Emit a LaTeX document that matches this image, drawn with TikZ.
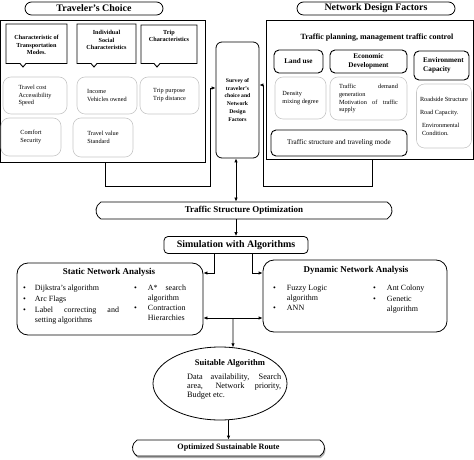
\documentclass[tikz,border=0pt]{standalone}
\usepackage{fontspec}
\usepackage{array}
\setmainfont{Liberation Serif}
\usetikzlibrary{shapes.misc,shapes.geometric,arrows.meta,shadows}
\hyphenpenalty=10000
\exhyphenpenalty=10000
\tikzset{
  titlepill/.style={draw, line width=0.8pt, rounded rectangle, font=\fontsize{10}{12}\selectfont\bfseries, inner sep=0pt},
  outerbox/.style={draw, line width=0.7pt, inner sep=0pt},
  hdrtext/.style={font=\fontsize{6.2}{7.8}\selectfont\bfseries, align=center, inner sep=0pt},
  hdrframe/.style={draw, line width=0.9pt},
  softbox/.style={draw=black!22, line width=0.6pt, rounded corners=8bp, font=\fontsize{6.3}{8}\selectfont, align=left, inner sep=0pt},
  darkbox/.style={draw, line width=0.9pt, rounded corners=5bp, font=\fontsize{7.2}{8.8}\selectfont\bfseries, align=center, inner sep=0pt},
  plaintext/.style={inner sep=0pt},
  bigbox/.style={draw, line width=0.8pt, rounded corners=11bp, inner sep=0pt},
  arr/.style={-{Latex[length=4bp,width=3.5bp]}, line width=0.8pt},
  darr/.style={{Latex[length=4bp,width=3.5bp]}-{Latex[length=4bp,width=3.5bp]}, line width=0.8pt},
  bodytxt/.style={font=\fontsize{8}{10}\selectfont, inner sep=0pt, align=left},
}
\begin{document}
\begin{tikzpicture}[x=1bp,y=-1bp]
\useasboundingbox (0,0) rectangle (474,460);

% ---------------- Traveler's choice ----------------
\node[titlepill, minimum width=138bp, minimum height=13bp] (tctitle) at (94,8.5) {Traveler's Choice};
\node[outerbox, minimum width=204.5bp, minimum height=142bp] (trav) at (102.75,91) {};

\draw[hdrframe] (6,24) -- (67,24) -- (67,63.5) -- (26,63.5) -- (23,67) -- (20,63.5) -- (6,63.5) -- cycle;
\draw[hdrframe] (77,24) -- (136,24) -- (136,63.5) -- (97,63.5) -- (94,67) -- (91,63.5) -- (77,63.5) -- cycle;
\draw[hdrframe] (141,25) -- (197,25) -- (197,63.5) -- (160,63.5) -- (157,67) -- (154,63.5) -- (141,63.5) -- cycle;
\node[hdrtext] (h1) at (36.5,45) {Characteristic of\\Transportation\\Modes.};
\node[hdrtext] (h2) at (106.5,40) {Individual\\Social\\Characteristics};
\node[hdrtext] (h3) at (169,36) {Trip\\Characteristics};

\node[softbox, minimum width=64bp, minimum height=37bp] (tb1) at (35,95.5) {Travel cost\\Accessibility\\Speed};
\node[softbox, minimum width=60bp, minimum height=37bp] (tb2) at (107,95.5) {Income\\Vehicles owned};
\node[softbox, minimum width=59bp, minimum height=37bp] (tb3) at (169.5,95.5) {Trip purpose\\Trip distance};
\node[softbox, minimum width=60bp, minimum height=38bp] (tb4) at (31,137) {Comfort\\Security};
\node[softbox, minimum width=60bp, minimum height=39bp] (tb5) at (103,137.5) {Travel value\\Standard};

% ---------------- Network design factors ----------------
\node[titlepill, minimum width=158bp, minimum height=13bp] (ndtitle) at (376,8.5) {Network Design Factors};
\node[outerbox, minimum width=207.5bp, minimum height=139bp] (ndf) at (369.75,89.5) {};
\node[plaintext, font=\fontsize{8}{10}\selectfont\bfseries] (tpm) at (377,38) {Traffic planning, management traffic control};

\node[darkbox, minimum width=49bp, minimum height=23bp] (land) at (298.5,61.5) {Land use};
\node[darkbox, minimum width=77bp, minimum height=23bp] (econ) at (368.5,61.5) {Economic\\Development};
\node[darkbox, minimum width=55bp, minimum height=29bp, align=left] (envc) at (441.5,65.5) {\hspace{4bp}Environment\\\hspace{4bp}Capacity};

\node[softbox, minimum width=51bp, minimum height=42bp] (dens) at (300.5,98) {Density\\mixing degree};
\node[softbox, minimum width=77bp, minimum height=43bp, text width=59bp] (tdem) at (368.5,98.5) {Traffic\hfill demand\\generation\\Motivation\hfill of\hfill traffic\\supply};
\node[softbox, minimum width=55bp, minimum height=64bp] (road) at (444,116) {Roadside Structure\\[5bp]Road Capacity.\\[5bp]\hspace{2bp}Environmental\\\hspace{2bp}Condition.};
\node[darkbox, minimum width=136bp, minimum height=26bp, font=\fontsize{7.2}{9}\selectfont] (tsm) at (339,143) {Traffic structure and traveling mode};

% ---------------- Survey ----------------
\node[draw, line width=0.8pt, rounded corners=6bp, minimum width=43bp, minimum height=116bp, inner sep=0pt,
      font=\fontsize{5.7}{8}\selectfont\bfseries, align=center] (survey) at (237.5,100) {Survey of\\traveler's\\choice and\\Network\\Design\\Factors};

\draw[arr] (trav.south -| 105,0) -- (105,186) -- (210,186) |- ([yshift=12bp]survey.west);
\draw[arr] (ndf.south -| 372,0) -- (372,186) -- (263,186) |- ([yshift=15bp]survey.east);

% ---------------- Middle chain ----------------
\node[draw, line width=0.8pt, rounded rectangle, rounded rectangle arc length=120, minimum width=296bp, minimum height=17bp, inner sep=0pt,
      font=\fontsize{9}{11}\selectfont\bfseries] (tso) at (244,210.5) {Traffic Structure Optimization};
\draw[darr] (survey.south -| 236,0) -- (tso.north -| 236,0);

\node[draw, line width=0.8pt, rounded corners=4bp, minimum width=144bp, minimum height=17bp, inner sep=0pt,
      font=\fontsize{10}{12}\selectfont\bfseries] (sim) at (236,245) {Simulation with Algorithms};
\draw[arr] (tso.south -| sim.north) -- (sim.north);

% ---------------- Static ----------------
\node[bigbox, minimum width=186bp, minimum height=72bp] (static) at (110,299) {};
\node[plaintext, font=\fontsize{9}{11}\selectfont\bfseries] (sttitle) at (109,272) {Static Network Analysis};
\node[bodytxt, anchor=north west] (stl) at (23,283) {%
  \begin{tabular}{@{}c@{\hspace{9bp}}p{84bp}@{}}
  \textbullet & Dijkstra's algorithm\\[1bp]
  \textbullet & Arc Flags\\[1bp]
  \textbullet & Label correcting and setting algorithms
  \end{tabular}};
\node[bodytxt, anchor=north west] (str) at (134,283) {%
  \begin{tabular}{@{}c@{\hspace{11bp}}p{38bp}@{}}
  \textbullet & A* search algorithm\\
  \textbullet & Contraction Hierarchies
  \end{tabular}};

% ---------------- Dynamic ----------------
\node[bigbox, minimum width=184bp, minimum height=72bp] (dyn) at (355,296) {};
\node[plaintext, font=\fontsize{9}{11}\selectfont\bfseries] (dytitle) at (356,270) {Dynamic Network Analysis};
\node[bodytxt, anchor=north west] (dyl) at (273,283) {%
  \begin{tabular}{@{}c@{\hspace{11bp}}>{\raggedright\arraybackslash}p{50bp}@{}}
  \textbullet & Fuzzy Logic algorithm\\[1bp]
  \textbullet & ANN
  \end{tabular}};
\node[bodytxt, anchor=north west] (dyr) at (373,283) {%
  \begin{tabular}{@{}c@{\hspace{11bp}}>{\raggedright\arraybackslash}p{45bp}@{}}
  \textbullet & Ant Colony\\[1bp]
  \textbullet & Genetic algorithm
  \end{tabular}};

\draw[arr] (sim.south -| 214,0) -- (214,273) -- (static.east |- 214,273);
\draw[arr] (sim.south -| 252,0) -- (252,273) -- (dyn.west |- 252,273);
\draw[darr] (static.east |- 0,318) -- (dyn.west |- 0,318);
\coordinate (junc) at (233,318);

% ---------------- Suitable ----------------
\node[draw, line width=0.8pt, ellipse, minimum width=134bp, minimum height=73bp, inner sep=0pt] (suit) at (220,383.5) {};
\node[plaintext, font=\fontsize{8.6}{10}\selectfont\bfseries] (suittitle) at (230,363) {Suitable Algorithm};
\node[bodytxt, font=\fontsize{8.3}{9}\selectfont, text width=94bp, align=justify, anchor=north west] (suittxt) at (187,374) {Data availability, Search area, Network priority, Budget etc.};
\draw[arr] (junc) -- ([xshift=13bp,yshift=-0.7bp]suit.north);

% ---------------- Optimized ----------------
\node[draw, line width=0.8pt, rounded rectangle, rounded rectangle arc length=120, fill=white,
      drop shadow={shadow xshift=1bp, shadow yshift=-2bp, fill=black!45, opacity=0.7},
      minimum width=192bp, minimum height=16bp, inner sep=0pt,
      font=\fontsize{8.2}{10}\selectfont\bfseries] (opt) at (228.5,448) {Optimized Sustainable Route};
\draw[arr] (opt.north |- suit.south) -- (opt.north);
\end{tikzpicture}
\end{document}
